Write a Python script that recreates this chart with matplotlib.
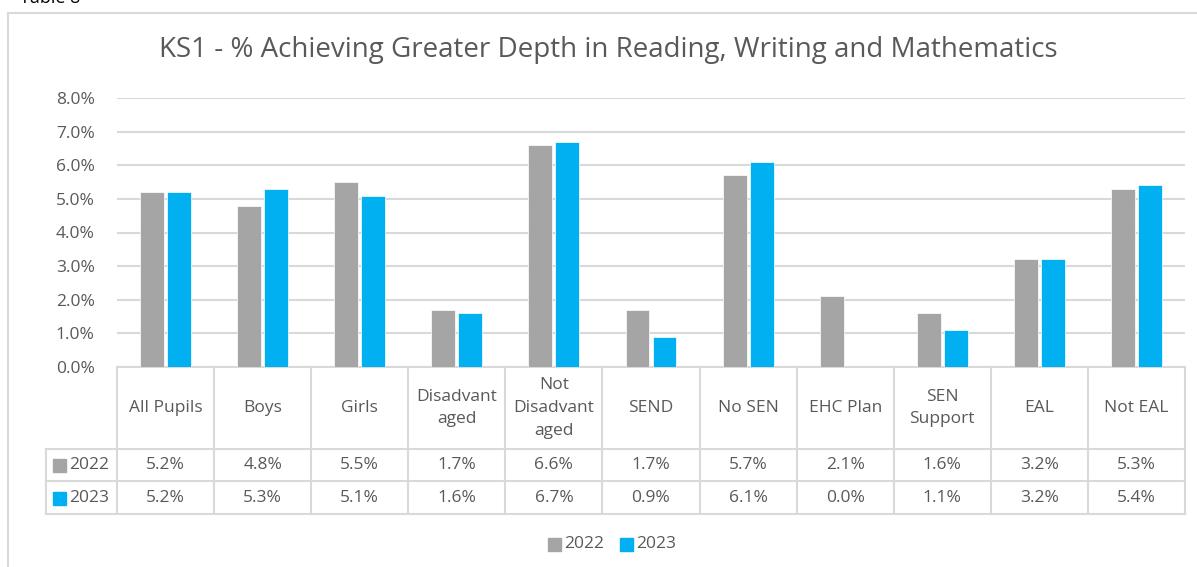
import matplotlib
matplotlib.use("Agg")
import matplotlib.pyplot as plt
from matplotlib.lines import Line2D
from matplotlib.patches import Rectangle
import numpy as np

plt.rcParams['font.family'] = ['Open Sans', 'DejaVu Sans']

categories = ['All Pupils', 'Boys', 'Girls', 'Disadvant\naged', 'Not\nDisadvant\naged',
              'SEND', 'No SEN', 'EHC Plan', 'SEN\nSupport', 'EAL', 'Not EAL']
years = ['2022', '2023']
vals_2022 = [5.2, 4.8, 5.5, 1.7, 6.6, 1.7, 5.7, 2.1, 1.6, 3.2, 5.3]
vals_2023 = [5.2, 5.3, 5.1, 1.6, 6.7, 0.9, 6.1, 0.0, 1.1, 3.2, 5.4]
yticks = [0, 1, 2, 3, 4, 5, 6, 7, 8]

GREY = '#A5A5A5'
BLUE = '#00B0F0'
TXT = '#595959'
LINE = '#D9D9D9'
FS = 12.5

W, H = 1197, 567
fig = plt.figure(figsize=(W / 100, H / 100), dpi=100)

def fx(px):
    return px / W

def fy(py):
    return 1 - py / H

# outer chart border (left + top)
fig.add_artist(Line2D([fx(8), fx(8)], [fy(13), 0], color=LINE, lw=1.5))
fig.add_artist(Line2D([fx(8), 1], [fy(13), fy(13)], color=LINE, lw=1.5))
# caption above the chart, cut off by the top edge as in the source screenshot
fig.text(fx(20), fy(3), 'Table 8', fontsize=13, color='black', va='baseline')

# plot area
x0, x1, ytop, ybot = 117, 1185, 98, 367
ax = fig.add_axes([fx(x0), fy(ybot), fx(x1) - fx(x0), fy(ytop) - fy(ybot)])
n = len(categories)
x = np.arange(n)
ax.bar(x - 0.139, vals_2022, width=0.247, color=GREY, edgecolor='white', linewidth=0.5, zorder=3)
ax.bar(x + 0.139, vals_2023, width=0.247, color=BLUE, edgecolor='white', linewidth=0.5, zorder=3)
ax.set_xlim(-0.5, n - 0.5)
ax.set_ylim(0, 8)
ax.set_yticks(yticks)
ax.set_yticklabels([f'{t:.1f}%' for t in yticks], color=TXT, fontsize=FS)
ax.tick_params(axis='y', length=0, pad=16)
ax.set_xticks([])
ax.grid(axis='y', color=LINE, lw=1.5, zorder=0)
for s in ['top', 'right', 'left']:
    ax.spines[s].set_visible(False)
ax.spines['bottom'].set_color(LINE)
ax.spines['bottom'].set_linewidth(1.5)

# data table
tl = 46
unit = (x1 - x0) / n
tax = fig.add_axes([fx(tl), fy(514), fx(x1) - fx(tl), fy(367) - fy(514)])
tax.set_xlim(-0.5 - (x0 - tl) / unit, n - 0.5)
tax.set_ylim(514, 367)
tax.axis('off')
rows = [367, 449, 481, 514]
for b in range(n + 1):
    tax.plot([b - 0.5, b - 0.5], [367, 514], color=LINE, lw=1.5, clip_on=False)
xl = -0.5 - (x0 - tl) / unit
tax.plot([xl, xl], [449, 514], color=LINE, lw=1.5, clip_on=False)
for r in rows[1:]:
    tax.plot([xl, n - 0.5], [r, r], color=LINE, lw=1.5, clip_on=False)
for i, c in enumerate(categories):
    tax.text(i, 408, c, ha='center', va='center', fontsize=FS, color=TXT, linespacing=1.55)
    tax.text(i, 465, f'{vals_2022[i]:.1f}%', ha='center', va='center', fontsize=FS, color=TXT)
    tax.text(i, 498, f'{vals_2023[i]:.1f}%', ha='center', va='center', fontsize=FS, color=TXT)
for yc, yr, col in [(465, years[0], GREY), (498, years[1], BLUE)]:
    tax.add_patch(Rectangle((xl + 0.07, yc - 6.5), 0.135, 13, color=col, clip_on=False))
    tax.text(xl + 0.24, yc, yr, ha='left', va='center', fontsize=FS, color=TXT)

# legend
fig.add_artist(Rectangle((fx(548), fy(551)), fx(13), fy(538) - fy(551), color=GREY))
fig.text(fx(564), fy(544), years[0], ha='left', va='center', fontsize=FS, color=TXT)
fig.add_artist(Rectangle((fx(620), fy(551)), fx(13), fy(538) - fy(551), color=BLUE))
fig.text(fx(636), fy(544), years[1], ha='left', va='center', fontsize=FS, color=TXT)

fig.text(fx(608), fy(50), 'KS1 - % Achieving Greater Depth in Reading, Writing and Mathematics',
         ha='center', va='center', fontsize=20, color=TXT)

fig.savefig('out.png', dpi=100)
